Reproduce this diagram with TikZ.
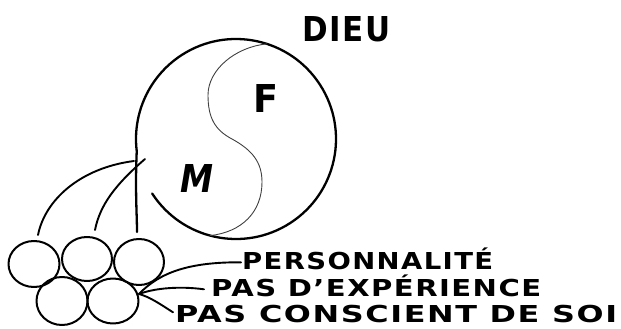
\documentclass[tikz,border=0pt]{standalone}
\usepackage{fontspec}
\usepackage{graphicx}
\usetikzlibrary{calc,shapes.geometric}
\setmainfont{DejaVu Sans}
\newcommand\fitbox[3]{\resizebox{#1}{#2}{\raisebox{0pt}[\fontcharht\font`P][0pt]{#3}}}
\begin{document}
\begin{tikzpicture}[x=1pt,y=1pt,
  ink/.style={draw=black,line cap=round,line join=round},
  bigline/.style={ink,line width=2.3pt},
  conn/.style={ink,line width=1.9pt},
  thin/.style={draw=black!75,line width=0.9pt,line cap=round},
  ball/.style={ellipse,ink,line width=2pt,inner sep=0pt},
  lab/.style={anchor=south west,inner sep=0pt,text=black,font=\bfseries\addfontfeature{LetterSpace=5}}]
\useasboundingbox (0,0) rectangle (621,-329);
% God circle with gap, left edge continuing down as a connector
\coordinate (gc) at (236,-139);
\coordinate (gapEnd) at ($(gc)+(213:100)$);
\draw[bigline] (gapEnd) arc[start angle=213,end angle=547,radius=100] coordinate (leftedge)
  .. controls (135,-190) and (137,-215) .. (137,-232) coordinate (c3top);
% S curve
\coordinate (stop) at ($(gc)+(72:100)$);
\coordinate (sbot) at ($(gc)+(255:100)$);
\draw[thin] (stop) .. controls (235,-47) and (208,-70) .. (208,-95)
  .. controls (208,-118) and (215,-130) .. (232,-139)
  .. controls (252,-150) and (262,-162) .. (262,-182)
  .. controls (262,-212) and (242,-232) .. (sbot);
% small circles
\node[ball,minimum width=51pt,minimum height=46pt] (c1) at (34,-264) {};
\node[ball,minimum width=50pt,minimum height=44pt] (c2) at (87,-259) {};
\node[ball,minimum width=50pt,minimum height=46pt] (c3) at (139,-262) {};
\node[ball,minimum width=51pt,minimum height=48pt] (c4) at (62,-301) {};
\node[ball,minimum width=51pt,minimum height=45pt] (c5) at (113,-301) {};
% connectors from circles to God
\coordinate (j1) at (134,-161);
\coordinate (j2) at (145,-159);
\draw[conn] (c1.north) ++(4,5) coordinate (c1t) .. controls (45,-200) and (80,-168) .. (j1);
\draw[conn] (c2.north) ++(8,6) coordinate (c2t) .. controls (100,-205) and (115,-185) .. (j2);
% texts
\node[lab] (dieu) at (302,-42) {\fitbox{88pt}{25pt}{DIEU}};
\node[lab] (f) at (253,-113) {\fitbox{25pt}{28pt}{F}};
\node[lab] (m) at (180,-193) {\fitbox{33pt}{28pt}{\itshape M}};
\node[lab] (t1) at (242,-270) {\fitbox{251pt}{17pt}{PERSONNALITÉ}};
\node[lab] (t2) at (211,-297) {\fitbox{330pt}{17pt}{PAS D'EXPÉRIENCE}};
\node[lab] (t3) at (175,-323) {\fitbox{442pt}{17pt}{PAS CONSCIENT DE SOI}};
% connectors from labels to circle 5
\coordinate (p) at (139,-294);
\draw[conn] (t1.west) ++(-1,-1) .. controls (190,-262) and (160,-272) .. (p);
\draw[conn] (t2.west) ++(-7,-1) .. controls (180,-286) and (155,-288) .. (p);
\draw[conn] (t3.west) ++(-2,2) .. controls (160,-304) and (150,-297) .. (p);
\end{tikzpicture}
\end{document}
